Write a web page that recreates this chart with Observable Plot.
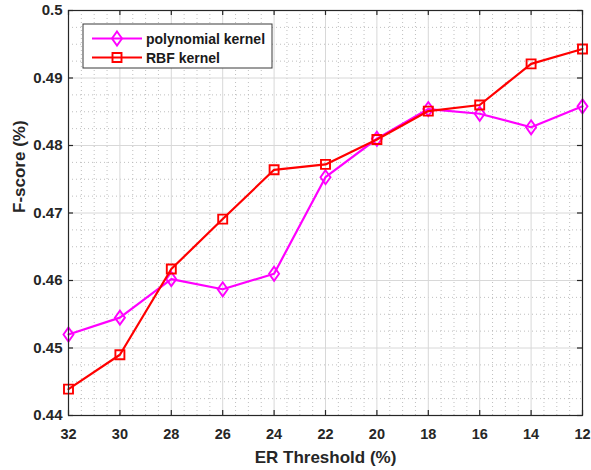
<!DOCTYPE html>
<html>
<head>
<meta charset="utf-8">
<script src="https://cdn.jsdelivr.net/npm/d3@7"></script>
<script src="https://cdn.jsdelivr.net/npm/@observablehq/plot@0.6"></script>
<style>
  html, body { margin: 0; padding: 0; background: #fff; }
  #chart svg { display: block; }
</style>
</head>
<body>
<div id="chart"></div>
<script>
// ---- data ----
const thresholds = [32, 30, 28, 26, 24, 22, 20, 18, 16, 14, 12];
const polyValues = [0.4520, 0.4545, 0.4602, 0.4587, 0.4610, 0.4753, 0.4810, 0.4854, 0.4847, 0.4827, 0.4858];
const rbfValues  = [0.4439, 0.4490, 0.4617, 0.4691, 0.4764, 0.4772, 0.4809, 0.4851, 0.4860, 0.4921, 0.4943];
const seriesNames = ["polynomial kernel", "RBF kernel"];
const xTicks = [32, 30, 28, 26, 24, 22, 20, 18, 16, 14, 12];
const xTickLabels = ["32", "30", "28", "26", "24", "22", "20", "18", "16", "14", "12"];
const yTicks = [0.44, 0.45, 0.46, 0.47, 0.48, 0.49, 0.50];
const yTickLabels = ["0.44", "0.45", "0.46", "0.47", "0.48", "0.49", "0.5"];
const xTitle = "ER Threshold (%)";
const yTitle = "F-score (%)";

const xMinor = d3.range(12, 32.001, 0.5).filter(v => Math.abs(v / 2 - Math.round(v / 2)) > 1e-6);
const yMinor = d3.range(0, 25).map(i => 0.44 + i * 0.0025).filter((v, i) => i % 4 !== 0);

const poly = thresholds.map((t, i) => ({x: t, y: polyValues[i]}));
const rbf = thresholds.map((t, i) => ({x: t, y: rbfValues[i]}));

const MAGENTA = "#ff00ff", RED = "#ff0000";

const tallDiamond = {
  draw(ctx, size) {
    const r = Math.sqrt(size / Math.PI);
    ctx.moveTo(0, -r * 1.4);
    ctx.lineTo(r, 0);
    ctx.lineTo(0, r * 1.4);
    ctx.lineTo(-r, 0);
    ctx.closePath();
  }
};
const squareSym = {
  draw(ctx, size) {
    const r = Math.sqrt(size / Math.PI);
    ctx.rect(-r, -r, 2 * r, 2 * r);
  }
};

const W = 591, H = 470, mL = 68, mR = 9, mT = 10, mB = 55;
const innerH = H - mT - mB, innerW = W - mL - mR;
const tickLen = 5;
const FONT = "'Liberation Sans', Arial, Helvetica, sans-serif";

const chart = Plot.plot({
  width: W, height: H,
  marginLeft: mL, marginRight: mR, marginTop: mT, marginBottom: mB,
  style: {fontFamily: FONT, background: "#fff"},
  x: {domain: [32, 12]},
  y: {domain: [0.44, 0.50]},
  marks: [
    Plot.ruleX(xMinor, {x: d => d, stroke: "#b8b8b8", strokeWidth: 0.9, strokeDasharray: "1,3"}),
    Plot.ruleY(yMinor, {y: d => d, stroke: "#b8b8b8", strokeWidth: 0.9, strokeDasharray: "1,3"}),
    Plot.ruleX(xTicks, {x: d => d, stroke: "#d8d8d8", strokeWidth: 1}),
    Plot.ruleY(yTicks, {y: d => d, stroke: "#d8d8d8", strokeWidth: 1}),
    Plot.line(poly, {x: "x", y: "y", stroke: MAGENTA, strokeWidth: 2.2}),
    Plot.dot(poly, {x: "x", y: "y", symbol: tallDiamond, r: 5, stroke: MAGENTA, strokeWidth: 1.9, fill: "none"}),
    Plot.line(rbf, {x: "x", y: "y", stroke: RED, strokeWidth: 2.2}),
    Plot.dot(rbf, {x: "x", y: "y", symbol: squareSym, r: 4.5, stroke: RED, strokeWidth: 1.9, fill: "none"}),
    Plot.frame({stroke: "#262626", strokeWidth: 1.2}),
    Plot.tickX(xTicks, {x: d => d, insetTop: innerH - tickLen, stroke: "#262626", strokeWidth: 1.2}),
    Plot.tickX(xTicks, {x: d => d, insetBottom: innerH - tickLen, stroke: "#262626", strokeWidth: 1.2}),
    Plot.tickY(yTicks, {y: d => d, insetRight: innerW - tickLen, stroke: "#262626", strokeWidth: 1.2}),
    Plot.tickY(yTicks, {y: d => d, insetLeft: innerW - tickLen, stroke: "#262626", strokeWidth: 1.2}),
    Plot.axisX({ticks: xTicks, tickSize: 0, tickPadding: 13, label: null, fontSize: 14.5, fontWeight: "bold", fill: "#262626",
      tickFormat: d => xTickLabels[xTicks.indexOf(d)]}),
    Plot.axisY({ticks: yTicks, tickSize: 0, tickPadding: 6, label: null, fontSize: 15, fontWeight: "bold", fill: "#262626",
      tickFormat: d => yTickLabels[yTicks.findIndex(v => Math.abs(v - d) < 1e-9)]}),
    Plot.text([xTitle], {text: d => d, frameAnchor: "bottom", dy: 47, lineAnchor: "bottom", fontSize: 17, fontWeight: "bold", fill: "#262626"}),
    Plot.text([yTitle], {text: d => d, frameAnchor: "left", dx: -56, rotate: -90, lineAnchor: "top", fontSize: 17, fontWeight: "bold", fill: "#262626"})
  ]
});

document.getElementById("chart").appendChild(chart);

// ---- legend (drawn inside the svg) ----
const svg = d3.select(chart);
const lg = svg.append("g").attr("transform", "translate(83,24)").attr("text-anchor", "start");
lg.append("rect").attr("x", 0).attr("y", 0).attr("width", 189).attr("height", 44)
  .attr("fill", "#fff").attr("stroke", "#3a3a3a").attr("stroke-width", 1);
const legendItems = [
  {name: seriesNames[0], color: MAGENTA, sym: tallDiamond, r: 5},
  {name: seriesNames[1], color: RED, sym: squareSym, r: 4.5}
];
legendItems.forEach((it, i) => {
  const cy = 14.5 + i * 19;
  lg.append("line").attr("x1", 9).attr("x2", 59).attr("y1", cy).attr("y2", cy)
    .attr("stroke", it.color).attr("stroke-width", 2.2);
  lg.append("path").attr("transform", `translate(34,${cy})`)
    .attr("d", d3.symbol(it.sym, Math.PI * it.r * it.r)())
    .attr("fill", "none").attr("stroke", it.color).attr("stroke-width", 1.9);
  lg.append("text").attr("x", 63).attr("y", cy).attr("dy", "0.36em")
    .attr("text-anchor", "start")
    .attr("font-size", 14).attr("font-weight", "bold").attr("fill", "#1a1a1a")
    .attr("font-family", FONT)
    .text(it.name);
});
</script>
</body>
</html>
